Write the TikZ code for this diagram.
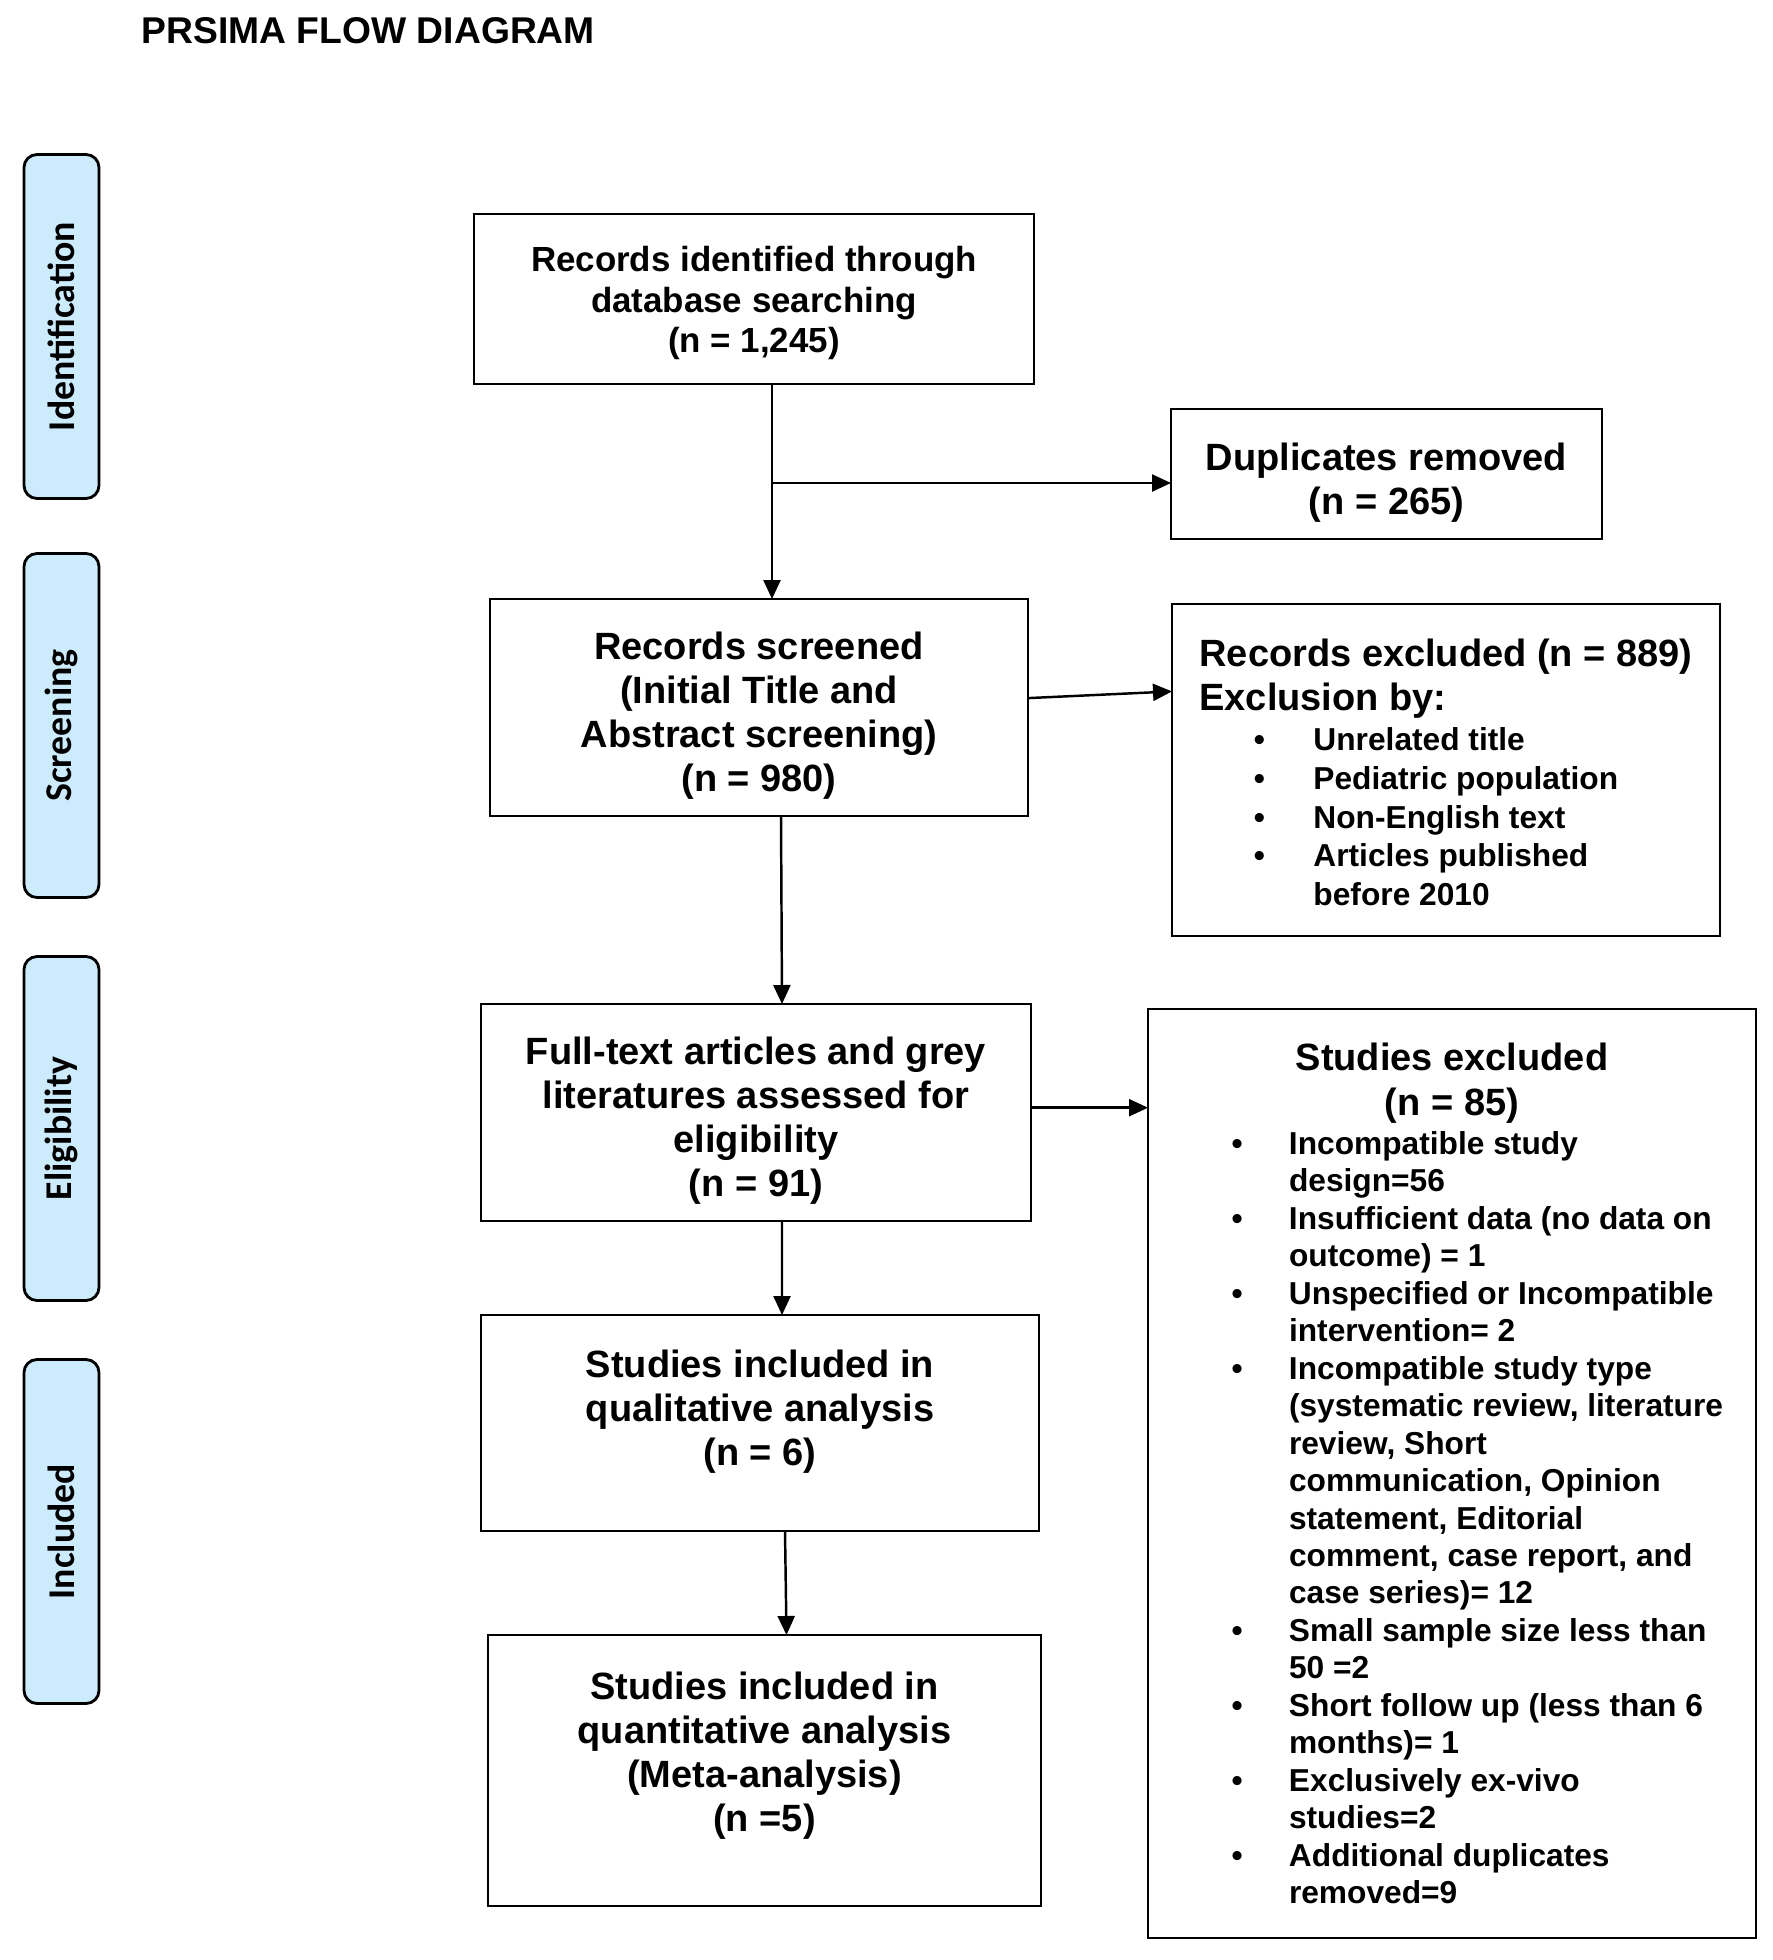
\documentclass[tikz,border=0pt]{standalone}
\usepackage{fontspec}
\setmainfont{Liberation Sans}
\newfontfamily\stagefont{Carlito}
\usepackage{graphicx}
\usepackage{xcolor}
\usetikzlibrary{calc,positioning,arrows.meta}
\definecolor{stageblue}{RGB}{204,235,253}
\newcommand{\headfont}{\fontsize{10.81pt}{12.52pt}\selectfont}
\newcommand{\rexitem}[1]{\hspace*{0.545cm}\makebox[0.595cm][l]{\textbullet}#1}
\newcommand{\rexline}[1]{\hspace*{1.14cm}#1}
\newcommand{\exitem}[1]{\makebox[4.41cm][l]{\makebox[0.575cm][l]{\textbullet}#1}}
\newcommand{\exline}[1]{\makebox[4.41cm][l]{\hspace*{0.575cm}#1}}
\newcommand{\lowstrut}[1]{\rule{0pt}{#1}}

\begin{document}
\begin{tikzpicture}[align=center,
        box/.style={draw, line width=0.8pt, inner sep=0pt, outer sep=0pt, font=\bfseries\headfont},
        stage/.style={draw, line width=0.8pt, rounded corners=0.13cm, fill=stageblue, inner sep=0pt, outer sep=0pt,
            minimum width=0.75cm, minimum height=3.44cm, font=\stagefont\bfseries\fontsize{10.76pt}{12pt}\selectfont},
        arrow/.style={-{Triangle[length=0.19cm, width=0.17cm]}, line width=0.7pt}]
        \useasboundingbox (0,0) rectangle (17.72,-19.60);

        \node [anchor=west, inner sep=0pt, font=\bfseries\fontsize{10.6pt}{12pt}\selectfont] (title) at (1.41,-0.31) {PRSIMA FLOW DIAGRAM};

        % Stages
        \node [stage] (identification) at (0.615,-3.265) {\rotatebox{90}{Identification}};
        \node [stage, below=0.55cm of identification] (screening) {\rotatebox{90}{Screening}};
        \node [stage, below=0.59cm of screening] (eligibility) {\rotatebox{90}{Eligibility}};
        \node [stage, below=0.59cm of eligibility] (included) {\rotatebox{90}{Included}};

        % Main flow
        \node [box, minimum width=5.60cm, minimum height=1.70cm, font=\bfseries\fontsize{9.93pt}{11.55pt}\selectfont] (identified) at (7.54,-2.99) {\lowstrut{0.335cm}Records identified through\\database searching\\(n = 1,245)};
        \node [box, below right=0.25cm and 1.37cm of identified, minimum width=4.31cm, minimum height=1.30cm] (duplicates) {\lowstrut{0.44cm}Duplicates removed\\(n = 265)};
        \node [box, below=2.15cm of identified, xshift=0.05cm, minimum width=5.38cm, minimum height=2.17cm] (screened) {\lowstrut{0.44cm}Records screened\\(Initial Title and\\Abstract screening)\\(n = 980)};
        \node [box, below right=0.65cm and 0.01cm of duplicates.south west, minimum width=5.48cm, minimum height=3.32cm, align=left, font=\bfseries\fontsize{9.02pt}{11.04pt}\selectfont] (excluded) {{\headfont\lowstrut{0.32cm}Records excluded (n = 889)}\\[1.48pt]{\headfont Exclusion by:}\\[0.48pt]\rexitem{Unrelated title}\\\rexitem{Pediatric population}\\\rexitem{Non-English text}\\\rexitem{Articles published}\\\rexline{before 2010}};
        \node [box, below=1.88cm of screened, xshift=-0.03cm, minimum width=5.50cm, minimum height=2.17cm] (assessed) {\lowstrut{0.44cm}Full-text articles and grey\\literatures assessed for\\eligibility\\(n = 91)};
        \node [box, below right=0.05cm and 1.17cm of assessed.north east, minimum width=6.08cm, minimum height=9.29cm, font=\bfseries\fontsize{9.02pt}{10.66pt}\selectfont] (studiesexcl) {{\headfont Studies excluded}\\[2.14pt]{\headfont (n = 85)}\\[0.38pt]
            \exitem{Incompatible study}\\\exline{design=56}\\
            \exitem{Insufficient data (no data on}\\\exline{outcome) = 1}\\
            \exitem{Unspecified or Incompatible}\\\exline{intervention= 2}\\
            \exitem{Incompatible study type}\\\exline{(systematic review, literature}\\\exline{review, Short}\\\exline{communication, Opinion}\\\exline{statement, Editorial}\\\exline{comment, case report, and}\\\exline{case series)= 12}\\
            \exitem{Small sample size less than}\\\exline{50 =2}\\
            \exitem{Short follow up (less than 6}\\\exline{months)= 1}\\
            \exitem{Exclusively ex-vivo}\\\exline{studies=2}\\
            \exitem{Additional duplicates}\\\exline{removed=9}};
        \node [box, below=0.94cm of assessed, xshift=0.04cm, minimum width=5.58cm, minimum height=2.16cm] (qualitative) {Studies included in\\qualitative analysis\\(n = 6)\\[-0.13cm]\mbox{}};
        \node [box, below=1.04cm of qualitative, xshift=0.045cm, minimum width=5.53cm, minimum height=2.71cm] (quantitative) {Studies included in\\quantitative analysis\\(Meta-analysis)\\(n =5)\\[-0.06cm]\mbox{}};

        % Connectors
        \coordinate (split) at ($(identified.south)+(0.18,-0.99)$);
        \draw[arrow] (identified.south -| split) -- (split |- screened.north);
        \draw[arrow] (split) -- (split -| duplicates.west);
        \draw[arrow] (screened.2) -- (excluded.164);
        \draw[arrow] ([xshift=0.22cm]screened.south) -- ([xshift=0.26cm]assessed.north);
        \draw[arrow] (assessed.1) -- (assessed.1 -| studiesexcl.west);
        \draw[arrow] ([xshift=0.26cm]assessed.south) -- ([xshift=0.22cm]qualitative.north);
        \draw[arrow] ([xshift=0.25cm]qualitative.south) -- ([xshift=0.22cm]quantitative.north);
    \end{tikzpicture}
\end{document}
